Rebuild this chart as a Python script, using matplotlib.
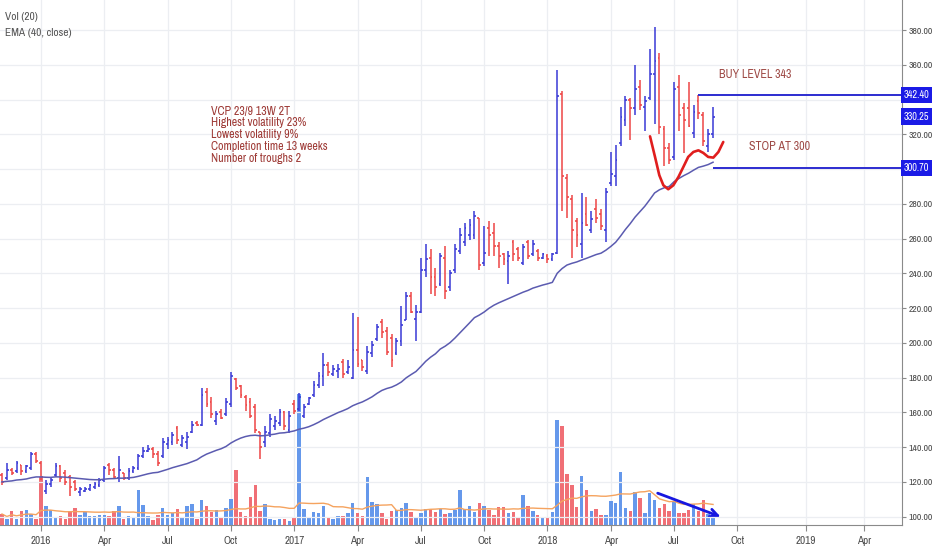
import numpy as np
import pandas as pd
import matplotlib
matplotlib.use("Agg")
import matplotlib.pyplot as plt
import matplotlib.dates as mdates

# ---------------- data (weekly bars, Mondays) ----------------
start_date = "2015-11-09"
opens = [124,122,127,126,130,126,128,136,131,115,119,124,129,125,123,120,114,115,116,117,
         118,121,130,127,122,125,122,126,128,135,138,139,136,135,142,143,151,141,143,149,
         154,153,172,166,155,160,159,165,179,175,169,166,163,149,143,148,152,154,160,150,
         165,162,158,165,170,176,181,187,182,184,189,183,180,196,190,184,194,202,212,207,
         203,194,201,213,227,214,218,242,249,238,234,249,232,242,253,258,262,262,272,246,
         266,263,256,251,247,258,254,246,258,251,253,249,250,248,252,343,295,283,270,257,
         274,265,277,274,265,292,296,315,328,340,335,347,336,341,355,364,323,312,307,347,
         335,335,321,339,331,313,320]
highs = [125,131,128,132,130,130,137,137,132,121,123,131,130,127,124,121,117,117,119,120,
         122,129,131,128,135,125,128,129,136,140,141,140,138,145,146,149,152,147,149,155,
         155,174,174,169,161,162,168,183,180,176,170,168,165,149,152,159,158,162,161,161,
         167,171,165,169,178,183,194,189,187,188,191,190,217,215,190,198,201,211,214,209,
         205,203,221,229,229,222,249,257,254,243,252,256,242,257,266,269,271,276,272,267,
         270,269,258,252,253,259,255,257,259,259,254,252,251,252,357,345,297,285,272,286,
         284,276,283,277,289,310,314,336,342,341,360,351,342,369,382,367,325,315,350,354,
         338,350,337,342.4,333,323,336]
lows = [118,121,124,125,124,125,127,131,121,113,117,123,120,118,112,115,112,114,115,116,
        117,120,124,122,120,121,121,125,127,134,137,134,129,134,139,141,142,140,139,148,
        152,152,163,157,153,156,158,163,173,168,161,157,148,133,140,146,150,152,150,148,
        159,161,157,164,169,174,175,181,181,180,180,182,179,186,184,182,192,201,203,193,
        186,193,198,213,217,201,217,238,228,227,233,225,230,240,251,256,259,260,242,244,
        250,250,243,245,234,247,247,245,248,250,247,248,246,247,251,276,272,249,255,249,
        267,263,269,265,258,290,290,313,325,317,331,334,322,340,326,320,302,303,305,322,
        309,324,318,329,313,310,318]
closes = [120,127,125,131,126,129,136,132,123,119,121,129,122,120,117,116,116,116,118,119,
          121,128,127,123,127,122,126,128,135,138,139,136,131,143,144,147,144,145,146,153,
          153,170,165,159,159,157,166,181,174,170,164,158,150,140,149,156,155,160,152,158,
          161,169,163,168,176,181,187,183,185,185,182,186,196,188,186,195,199,209,206,195,
          190,201,210,227,218,218,242,248,238,232,250,230,240,254,262,266,268,273,245,252,
          262,256,250,248,250,251,249,255,250,257,249,251,248,251,342,296,284,265,262,269,
          268,271,272,267,287,297,305,330,340,335,346,337,339,355,362,324,312,305,346,331,
          328,325,333,332,316,320,330.25]
volume = [11,6,13.7,6,14,14.7,11,6,48,
          18.7,14.7,7,8.7,6,13.7,17.3,10,12.7,8.7,9,10,10,8.7,13.7,19,6,9,8,
          35,19.7,8.7,5.3,10,17,10,12,16,7,18.7,20.7,6,24.7,18.7,12.7,14.7,8,17,26,55,
          12.7,9,28,39.7,14,20.7,6,4.7,5.7,5.7,4,7,130.7,
          15.7,7,12.7,12,19,7,6,9,8.7,12,22,12,9.3,48,23,20.7,12,6,13.7,14.7,17.3,22,
          12.7,7,12,16,16,12.7,15.7,10.7,12,14.7,34.7,16,
          19.5,13.5,22,19.5,15.5,10.5,18,18.5,12,13.5,8.5,30,19.5,14.5,10.5,7.8,7,13.5,105,
          99.5,51,40.5,18,49,35.5,14.5,15.8,10.5,10.5,24.5,22,53.5,16.8,13.8,33,27.5,11.8,
          32.5,25.5,16.8,21,13.8,24.5,11.8,12.5,15.5,21,13.8,25.5,11,9.5]

buy_level = 342.40
stop_level = 300.70
buy_start_bar = 143
stop_start_bar = 146

# hand-drawn red "cup" curve (bar offset, price)
curve_bar = [133.06,134.09,134.97,135.8,136.8,137.85,138.9,139.9,140.9,141.96,143.0,144.0,145.0,146.06,147.1,148.1]
curve_price = [318.85,306.97,296.45,290.7,288.4,290.7,295.5,301.2,307.0,309.85,310.8,309.3,307.0,306.6,309.85,315.6]
# blue arrow on volume (bar offset, volume)
arrow_bar = [134.1, 148.1]
arrow_vol = [32.8, 7.2]

note_lines = ["VCP 23/9 13W 2T", "Highest volatility 23%", "Lowest volatility 9%",
              "Completion time 13 weeks", "Number of troughs 2"]
price_ticks = list(range(100, 381, 20))
hidden_ticks = [300, 340]   # covered by the level labels

# ---------------- figure ----------------
NARROW = ["Liberation Sans Narrow", "Archivo Narrow", "DejaVu Sans"]
BLUE = "#3a3ad6"
RED = "#ee4646"
VBLUE = "#5d93ea"
VRED = "#f0676f"

dates = pd.date_range(start_date, periods=len(closes), freq="7D")
x = mdates.date2num(dates)
x0 = x[0]
wk = 7.0
o = np.array(opens); h = np.array(highs); l = np.array(lows); c = np.array(closes)
v = np.array(volume, dtype=float)
up = c >= o

fig = plt.figure(figsize=(9.32, 5.5), dpi=100)
fig.patch.set_facecolor("white")
rect = [0, 25/550, 902/932, 525/550]
axv = fig.add_axes(rect)
ax = axv.twinx()

xmin = x0 - 0.41*wk
xmax = x0 + 184.8*wk
axv.set_xlim(xmin, xmax)
axv.set_ylim(0, 525)
ax.set_ylim(95.2, 397.3)

# grid
for p in price_ticks:
    ax.axhline(p, color="#eceef2", lw=0.9, zorder=0)

# quarter ticks: first Monday on/after the 1st
tick_pos, tick_lab, tick_bold = [], [], []
for yr in range(2016, 2020):
    for m in (1, 4, 7, 10):
        d = pd.Timestamp(yr, m, 1)
        d = d + pd.Timedelta(days=(7 - d.weekday()) % 7)
        dn = mdates.date2num(d)
        if xmin < dn < xmax:
            tick_pos.append(dn)
            tick_lab.append(str(yr) if m == 1 else d.strftime("%b"))
            tick_bold.append(m == 1)
for tp in tick_pos:
    axv.axvline(tp, color="#eceef2", lw=0.9, zorder=0)

# volume
axv.bar(x, v, width=5.0, color=np.where(up, VBLUE, VRED), alpha=0.95, zorder=2, linewidth=0)
vol_ma = pd.Series(v).rolling(20, min_periods=1).mean()
axv.plot(x, vol_ma, color="#f5a35f", lw=1.0, zorder=3)
axv.annotate("", xy=(x0 + arrow_bar[1]*wk, arrow_vol[1]),
             xytext=(x0 + arrow_bar[0]*wk, arrow_vol[0]),
             arrowprops=dict(arrowstyle="->", color="#1717e0", lw=2.0, mutation_scale=14),
             zorder=5)

# price bars
cols = np.where(up, BLUE, RED)
tw = 2.6
ax.vlines(x, l, h, colors=cols, lw=1.3, alpha=0.85, zorder=3)
ax.hlines(o, x - tw, x, colors=cols, lw=1.3, alpha=0.9, zorder=3)
ax.hlines(c, x, x + tw, colors=cols, lw=1.3, alpha=0.9, zorder=3)

# EMA 40 of close
ema = pd.Series(c).ewm(span=40, adjust=False).mean()
ax.plot(x, ema, color="#5b5bb0", lw=1.1, zorder=4)

# levels
ax.hlines(buy_level, x[buy_start_bar], xmax, color="#2c2cd0", lw=1.4, zorder=5)
ax.hlines(stop_level, x[stop_start_bar], xmax, color="#2c2cd0", lw=1.4, zorder=5)

# red cup curve
ax.plot(x0 + np.array(curve_bar)*wk, curve_price, color="#e01e1e", lw=1.9,
        solid_capstyle="round", solid_joinstyle="round", zorder=6)

# axes styling
for a in (ax, axv):
    a.spines["top"].set_visible(False)
    a.spines["left"].set_visible(False)
    a.patch.set_visible(False)
axv.spines["right"].set_visible(False)
axv.spines["bottom"].set_color("#8a8a8a")
ax.spines["bottom"].set_visible(False)
ax.spines["right"].set_color("#8a8a8a")
axv.set_yticks([])
axv.tick_params(axis="x", length=4, color="#8a8a8a", pad=4)
axv.set_xticks(tick_pos)
axv.set_xticklabels(tick_lab, fontsize=8, color="#4a4a4a", family=NARROW)
for lab, b in zip(axv.get_xticklabels(), tick_bold):
    if b:
        lab.set_fontweight("bold")
ax.set_yticks(price_ticks)
ax.set_yticklabels(["" if p in hidden_ticks else f"{p:.2f}" for p in price_ticks],
                   fontsize=7.0, color="#4a4a4a", family=NARROW)
ax.tick_params(axis="y", length=3, color="#8a8a8a", pad=1.5)

# right-axis price labels
for val in (buy_level, closes[-1], stop_level):
    ax.annotate(f"{val:.2f}", xy=(1, val), xycoords=("axes fraction", "data"),
                xytext=(1.2, 0), textcoords="offset points", ha="left", va="center",
                color="white", fontsize=7.4, family=NARROW, annotation_clip=False, zorder=20,
                bbox=dict(boxstyle="square,pad=0.3", fc="#1b1be6", ec="none"))

# texts
ax.text(5/902, 1 - 16.5/525, "Vol (20)", transform=ax.transAxes, fontsize=8.2,
        color="#555555", family=NARROW, va="center", ha="left")
ax.text(5/902, 1 - 33/525, "EMA (40, close)", transform=ax.transAxes, fontsize=8.2,
        color="#555555", family=NARROW, va="center", ha="left")
for k, line in enumerate(note_lines):
    ax.text(211/902, 1 - (111 + 11.9*k)/525, line, transform=ax.transAxes, fontsize=8.6,
            color="#9e3a36", family=NARROW, va="center", ha="left")
ax.text(719/902, 1 - 75/525, "BUY LEVEL 343", transform=ax.transAxes, fontsize=8.6,
        color="#9e4a46", family=NARROW, va="center", ha="left")
ax.text(749/902, 1 - 146/525, "STOP AT 300", transform=ax.transAxes, fontsize=8.6,
        color="#9e4a46", family=NARROW, va="center", ha="left")

fig.savefig("out.png", dpi=100, facecolor="white")
